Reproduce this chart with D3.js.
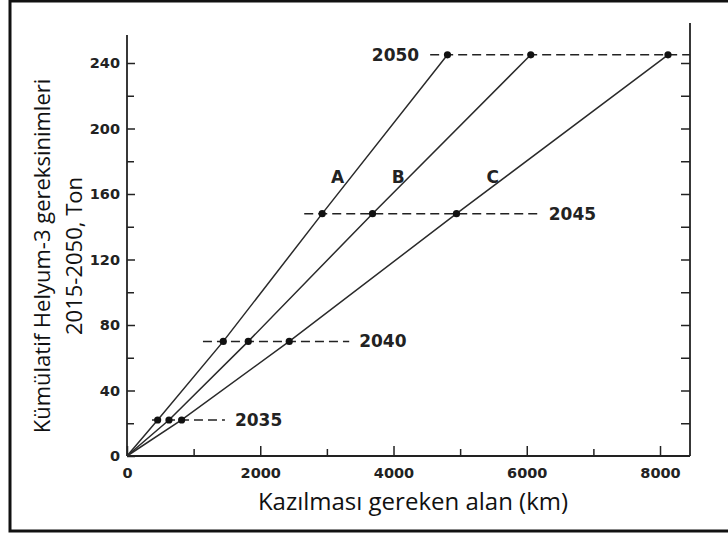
<!DOCTYPE html>
<html>
<head>
<meta charset="utf-8">
<script src="https://cdn.jsdelivr.net/npm/d3@7"></script>
<style>
  html, body { margin: 0; padding: 0; background: #fff; }
  svg { display: block; }
</style>
</head>
<body>
<svg id="chart"></svg>
<script>
// cumulative He-3 demand at each milestone year (tonnes)
const years = [2035, 2040, 2045, 2050];
const tonnes = [22, 70, 148, 245];

// area to be mined (km) for the three scenarios
const seriesNames = ["A", "B", "C"];
const areaA = [460, 1445, 2930, 4810];
const areaB = [630, 1820, 3685, 6060];
const areaC = [820, 2435, 4945, 8120];

// extent of each dashed year guide, in km
const guideFrom = [375, 1140, 2660, 4550];
const guideTo = [1470, 3335, 6180, 8450];

// where the A / B / C letters sit (km, tonnes)
const letterKm = [3160, 4070, 5490];
const letterTon = 167;

const xTicks = [0, 2000, 4000, 6000, 8000];
const xMinor = [1000, 3000, 5000, 7000];
const yTicks = [0, 40, 80, 120, 160, 200, 240];
const yMinor = [20, 60, 100, 140, 180, 220];

const width = 728, height = 535;
const svg = d3.select("#chart").attr("width", width).attr("height", height);

const x = d3.scaleLinear().domain([0, 8450]).range([127, 690]);
const y = d3.scaleLinear().domain([0, 240]).range([456, 63]);
const ink = "#222";

// outer frame
svg.append("rect")
    .attr("x", 10).attr("y", 1)
    .attr("width", 730).attr("height", 530)
    .attr("fill", "none").attr("stroke", "#111").attr("stroke-width", 3);

// axes: ticks pointing inward
const bottomAxis = svg.append("g")
    .attr("transform", `translate(0,${y(0)})`)
    .call(d3.axisBottom(x).tickValues(xTicks).tickSize(-10).tickPadding(12).tickFormat(d3.format("d")));
bottomAxis.select(".domain").remove();
svg.append("g")
    .attr("transform", `translate(0,${y(0)})`)
    .call(d3.axisBottom(x).tickValues(xMinor).tickSize(-7).tickFormat(""))
    .select(".domain").remove();

const leftAxis = svg.append("g")
    .attr("transform", `translate(${x(0)},0)`)
    .call(d3.axisLeft(y).tickValues(yTicks).tickSize(-8).tickPadding(7));
leftAxis.select(".domain").remove();
svg.append("g")
    .attr("transform", `translate(${x(0)},0)`)
    .call(d3.axisLeft(y).tickValues(yMinor).tickSize(-7).tickFormat(""))
    .select(".domain").remove();

svg.append("g")
    .attr("transform", `translate(${x(8450)},0)`)
    .call(d3.axisRight(y).tickValues(yMinor.concat(yTicks.slice(1))).tickSize(-9).tickFormat(""))
    .select(".domain").remove();

svg.selectAll(".tick line").attr("stroke", ink).attr("stroke-width", 1.5);
svg.selectAll(".tick text")
    .attr("fill", ink)
    .style("font-family", "'DejaVu Sans', sans-serif")
    .style("font-weight", "bold")
    .style("font-size", "14.5px");

// axis lines (open top)
svg.append("line")
    .attr("x1", x(0)).attr("x2", x(0))
    .attr("y1", y(0)).attr("y2", 35)
    .attr("stroke", ink).attr("stroke-width", 1.8);
svg.append("line")
    .attr("x1", x(0)).attr("x2", x(8450))
    .attr("y1", y(0)).attr("y2", y(0))
    .attr("stroke", ink).attr("stroke-width", 1.8);
svg.append("line")
    .attr("x1", x(8450)).attr("x2", x(8450))
    .attr("y1", y(0)).attr("y2", 23)
    .attr("stroke", ink).attr("stroke-width", 1.8);

// dashed year guides
years.forEach((yr, i) => {
    svg.append("line")
        .attr("x1", x(guideFrom[i])).attr("x2", x(guideTo[i]))
        .attr("y1", y(tonnes[i])).attr("y2", y(tonnes[i]))
        .attr("stroke", ink).attr("stroke-width", 1.5)
        .attr("stroke-dasharray", "9,5");

    const last = i === years.length - 1;
    svg.append("text")
        .attr("x", last ? x(guideFrom[i]) - 11 : x(guideTo[i]) + 10)
        .attr("y", y(tonnes[i]))
        .attr("dy", "0.36em")
        .attr("text-anchor", last ? "end" : "start")
        .attr("fill", ink)
        .style("font-family", "'DejaVu Sans', sans-serif")
        .style("font-weight", "bold")
        .style("font-size", "17px")
        .text(yr);
});

// scenario lines through the origin
const line = d3.line().x(d => x(d[0])).y(d => y(d[1]));
[areaA, areaB, areaC].forEach((area, s) => {
    const pts = [[0, 0]].concat(area.map((a, i) => [a, tonnes[i]]));
    svg.append("path")
        .attr("d", line(pts))
        .attr("fill", "none")
        .attr("stroke", "#2a2a2a")
        .attr("stroke-width", 1.5);

    svg.selectAll(null)
        .data(area)
        .enter().append("circle")
        .attr("cx", d => x(d))
        .attr("cy", (d, i) => y(tonnes[i]))
        .attr("r", 3.6)
        .attr("fill", "#111");

    svg.append("text")
        .attr("x", x(letterKm[s]))
        .attr("y", y(letterTon))
        .attr("text-anchor", "middle")
        .attr("fill", ink)
        .style("font-family", "'DejaVu Sans', sans-serif")
        .style("font-weight", "bold")
        .style("font-size", "17px")
        .text(seriesNames[s]);
});

// axis titles
svg.append("text")
    .attr("x", 413)
    .attr("y", 510)
    .attr("text-anchor", "middle")
    .attr("fill", "#111")
    .style("font-family", "'Open Sans', sans-serif")
    .style("font-size", "24px")
    .text("Kazılması gereken alan (km)");

const yTitle = svg.append("text")
    .attr("transform", "translate(0,256) rotate(-90)")
    .attr("text-anchor", "middle")
    .attr("fill", "#111")
    .style("font-family", "'Open Sans', sans-serif")
    .style("font-size", "22px");
yTitle.append("tspan").attr("x", 0).attr("y", 50).text("Kümülatif Helyum-3 gereksinimleri");
yTitle.append("tspan").attr("x", 0).attr("y", 82).text("2015-2050, Ton");
</script>
</body>
</html>
